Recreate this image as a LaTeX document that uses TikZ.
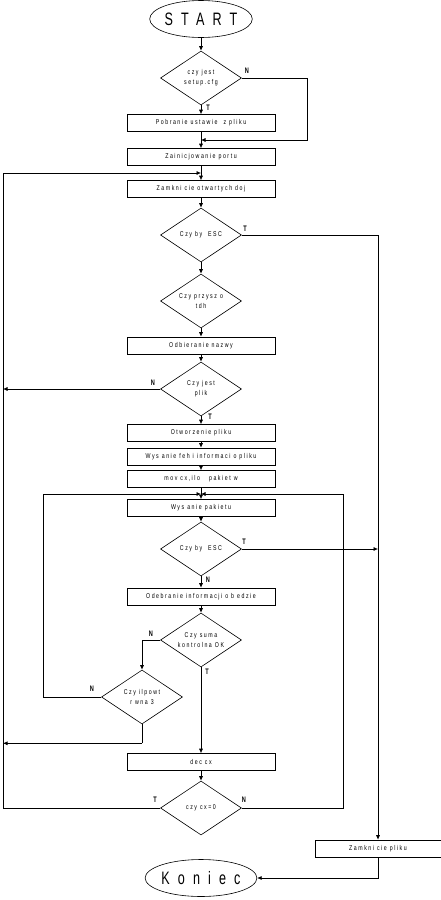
\documentclass[tikz,border=0pt]{standalone}
\usepackage{fontspec}
\usetikzlibrary{shapes.geometric,arrows.meta}
\newfontfamily\chartfont[LetterSpace=22,FakeStretch=0.75]{Liberation Sans}
\newfontfamily\markfont[FakeStretch=0.7]{Liberation Sans}
\newfontfamily\bigfont[LetterSpace=45,FakeStretch=0.7]{Liberation Sans}

\tikzset{
  box/.style={draw, rectangle, minimum width=148pt, minimum height=17pt, inner sep=1pt, font=\chartfont\fontsize{7}{7}\selectfont},
  ask/.style={draw, diamond, aspect=1.5, minimum width=81pt, minimum height=54pt, inner sep=0pt, align=center, font=\chartfont\fontsize{7}{10}\selectfont},
  term/.style={draw, ellipse, minimum width=78pt, minimum height=37pt, inner sep=0pt, font=\bigfont\fontsize{18}{18}\selectfont},
  lbl/.style={font=\markfont\bfseries\fontsize{8}{8}\selectfont, inner sep=0pt},
  ->/.style={-{Latex[length=4.5pt,width=4pt]}}
}

\begin{document}
\begin{tikzpicture}[x=1pt, y=-1pt, line width=0.6pt]

\useasboundingbox (0,0) rectangle (441,900);

\node[term] (1) at (201,19) {START};
\node[ask] (2) at (201,78) {czy jest\\setup.cfg};
\node[box] (3) at (201,123) {Pobranie ustawie\ \ z pliku};
\node[box] (4) at (201,157) {Zainicjowanie portu};
\node[box] (5) at (201,189) {Zamkni cie otwartych doj};
\node[ask] (6) at (201,235) {Czy by\ \ ESC};
\node[ask] (7) at (201,301) {Czy przysz o\\tdh};
\node[box] (8) at (201,345.5) {Odbieranie nazwy};
\node[ask] (9) at (201,389) {Czy jest\\plik};
\node[box] (10) at (201,433) {Otworzenie pliku};
\node[box] (11) at (201,456.5) {Wys anie feh i informaci o pliku};
\node[box] (12) at (201,479) {mov cx,ilo\ \ \ pakiet w};
\node[box] (13) at (201,508) {Wys anie pakietu};
\node[ask] (14) at (201,549) {Czy by\ \ ESC};
\node[box] (15) at (201,596.5) {Odebranie informacji o b edzie};
\node[ask] (16) at (201,640) {Czy suma\\kontrolna OK};
\node[ask] (17) at (142,697) {Czy ilpowt\\r wna 3};
\node[box] (18) at (201,762) {dec cx};
\node[ask] (19) at (201,808) {czy cx=0};
\node[box, minimum width=126pt] (20) at (378,848.5) {Zamkni cie pliku};
\node[term] (21) at (201,878) {Koniec};

\coordinate (m1) at (201,140);
\coordinate (m2) at (201,173);
\coordinate (m3) at (201,494);
\coordinate (l1) at (3,173);

\draw[->] (1.south) -- (2.north);
\draw[->] (2.south) -- (3.north);
\draw[->] (3.south) -- (4.north);
\draw[->] (2.east) -- +(65,0) |- (m1);
\draw[->] (4.south) -- (5.north);
\draw[->] (5.south) -- (6.north);
\draw[->] (6.south) -- (7.north);
\draw[->] (7.south) -- (8.north);
\draw[->] (8.south) -- (9.north);
\draw[->] (9.south) -- (10.north);
\draw[->] (10.south) -- (11.north);
\draw[->] (11.south) -- (12.north);
\draw[->] (12.south) -- (13.north);
\draw[->] (13.south) -- (14.north);
\draw[->] (14.south) -- (15.north);
\draw[->] (15.south) -- (16.north);
\draw[->] (16.south) -- (18.north);
\draw[->] (18.south) -- (19.north);

\draw[->] (6.east) -| (20.north);
\draw[->] (14.east) -- (14.east -| 20.north);
\draw[->] (20.south) |- (21.east);

\draw[->] (9.west) -- (9.west -| l1);
\draw[->] (19.west) -| (l1) -- (m2);
\draw (17.south) -- +(0,19) coordinate (b);
\draw[->] (b) -- (b -| l1);

\draw[->] (16.west) -| (17.north);
\draw[->] (17.west) -- +(-58,0) |- (m3);
\draw[->] (19.east) -- +(101,0) |- (m3);

\node[lbl] (n1) at (247,71) {N};
\node[lbl] (t1) at (208,108) {T};
\node[lbl] (t2) at (245,229) {T};
\node[lbl] (n2) at (153,383) {N};
\node[lbl] (t3) at (210,417) {T};
\node[lbl] (t4) at (244,542) {T};
\node[lbl] (n3) at (208,580) {N};
\node[lbl] (n4) at (151,634) {N};
\node[lbl] (t5) at (207,672) {T};
\node[lbl] (n5) at (92,689) {N};
\node[lbl] (t6) at (155,800) {T};
\node[lbl] (n6) at (244,800) {N};

\end{tikzpicture}
\end{document}
